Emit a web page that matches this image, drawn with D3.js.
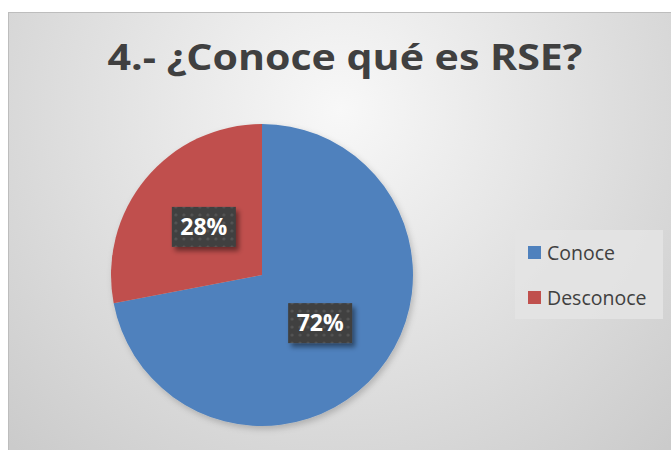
<!DOCTYPE html>
<html>
<head>
<meta charset="utf-8">
<script src="https://cdn.jsdelivr.net/npm/d3@7"></script>
<style>
  body { margin: 0; background: #fff; }
  svg { display: block; }
</style>
</head>
<body>
<div id="chartDiv"></div>
<script>
var categories = ["Conoce", "Desconoce"];
var values = [72, 28];
var colors = ["#4f81bd", "#c0504d"];
var title = "4.- ¿Conoce qué es RSE?";

var width = 671, height = 450;
var font = "'Open Sans', 'Liberation Sans', sans-serif";

var svg = d3.select("#chartDiv").append("svg")
	.attr("width", width).attr("height", height);

var defs = svg.append("defs");

var bg = defs.append("radialGradient").attr("id", "bg")
	.attr("gradientUnits", "userSpaceOnUse")
	.attr("cx", 340).attr("cy", 110).attr("r", 470);
bg.append("stop").attr("offset", "0").attr("stop-color", "#f8f8f8");
bg.append("stop").attr("offset", "1").attr("stop-color", "#cbcbcb");

// dotted texture for the data labels
var pat = defs.append("pattern").attr("id", "dots")
	.attr("patternUnits", "userSpaceOnUse")
	.attr("width", 8).attr("height", 8);
pat.append("rect").attr("width", 8).attr("height", 8).attr("fill", "#3f3f3f");
pat.append("circle").attr("cx", 4).attr("cy", 4).attr("r", 1.6).attr("fill", "#555");

var shadow = defs.append("filter").attr("id", "shadow")
	.attr("x", "-20%").attr("y", "-20%").attr("width", "150%").attr("height", "150%");
shadow.append("feDropShadow").attr("dx", 3).attr("dy", 4)
	.attr("stdDeviation", 2.5).attr("flood-color", "#000").attr("flood-opacity", 0.45);

var pieShadow = defs.append("filter").attr("id", "pieShadow")
	.attr("x", "-10%").attr("y", "-10%").attr("width", "125%").attr("height", "125%");
pieShadow.append("feDropShadow").attr("dx", 2).attr("dy", 3)
	.attr("stdDeviation", 3).attr("flood-color", "#000").attr("flood-opacity", 0.2);

// chart area
svg.append("rect").attr("x", 8.5).attr("y", 12.5)
	.attr("width", width).attr("height", height)
	.attr("fill", "url(#bg)").attr("stroke", "#bdbdbd");

// title
svg.append("text")
	.attr("x", 345).attr("y", 70)
	.attr("text-anchor", "middle")
	.attr("font-family", font).attr("font-weight", "bold")
	.attr("font-size", 36).attr("fill", "#404040")
	.attr("textLength", 475).attr("lengthAdjust", "spacingAndGlyphs")
	.text(title);

// pie
var cx = 262, cy = 275, r = 151;
var pie = d3.pie().sort(null).value(function(d) { return d; });
var arcs = pie(values);
var arc = d3.arc().innerRadius(0).outerRadius(r);
var labelArc = d3.arc().innerRadius(r * 0.5).outerRadius(r * 0.5);

var g = svg.append("g").attr("transform", "translate(" + cx + "," + cy + ")");
g.append("g").attr("filter", "url(#pieShadow)")
	.selectAll("path").data(arcs).enter().append("path")
	.attr("d", arc)
	.attr("fill", function(d, i) { return colors[i]; });

var total = d3.sum(values);
var lab = g.selectAll(".lab").data(arcs).enter().append("g")
	.attr("class", "lab")
	.attr("transform", function(d) { return "translate(" + labelArc.centroid(d) + ")"; });
lab.append("rect")
	.attr("x", -32).attr("y", -20).attr("width", 64).attr("height", 40)
	.attr("fill", "url(#dots)").attr("filter", "url(#shadow)");
lab.append("text")
	.attr("text-anchor", "middle").attr("dy", "0.36em")
	.attr("font-family", font).attr("font-weight", "bold")
	.attr("font-size", 23).attr("fill", "#fff")
	.text(function(d) { return Math.round(d.value / total * 100) + "%"; });

// legend
var legend = svg.append("g");
legend.append("rect").attr("x", 515).attr("y", 230)
	.attr("width", 148).attr("height", 89).attr("fill", "#e4e4e4").attr("opacity", 0.85);
var item = legend.selectAll(".item").data(categories).enter().append("g")
	.attr("class", "item")
	.attr("transform", function(d, i) { return "translate(528," + (246 + i * 45) + ")"; });
item.append("rect").attr("width", 13).attr("height", 13)
	.attr("fill", function(d, i) { return colors[i]; });
item.append("text").attr("x", 19).attr("y", 13.5)
	.attr("font-family", font).attr("font-size", 19.5).attr("fill", "#404040")
	.text(function(d) { return d; });
</script>
</body>
</html>
